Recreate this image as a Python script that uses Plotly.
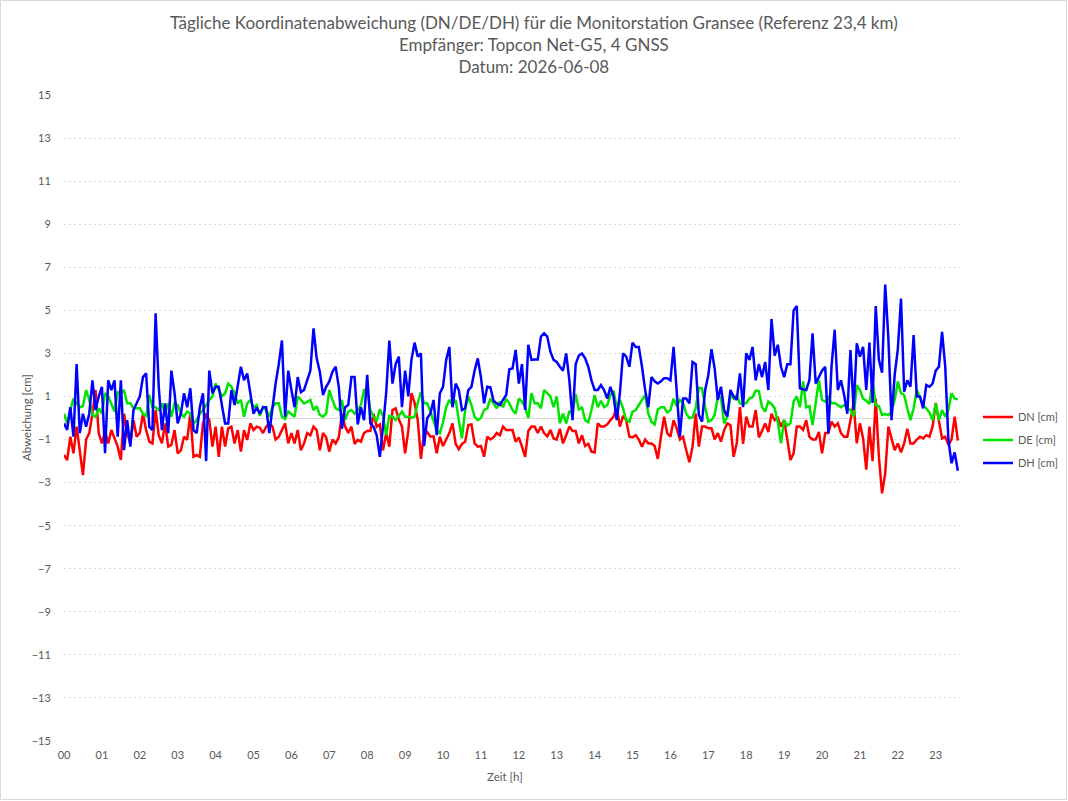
import plotly.graph_objects as go

# time axis: 5-minute samples starting 00:00 (hours)
n_points = 284
hours = [i * 5 / 60 for i in range(n_points)]
tick_vals = list(range(24))
tick_text = [f"{h:02d}" for h in range(24)]
y_ticks = list(range(-15, 16, 2))

dn = [
    -1.72, -1.95, -0.87, -1.64, -0.4, -1.6, -2.65, -1.0, -0.7, 0.2,
    1.3, -0.7, -1.18, -0.63, -1.18, -0.56, -1.0, -1.33, -1.95, 0.2,
    -0.7, -1.18, -0.1, -0.87, -0.7, 0.2, -0.56, -1.1, -1.18, 0.37,
    -0.8, -1.18, -0.25, -1.33, -1.25, -0.56, -1.64, -1.5, -0.87, -1.02,
    0.2, -1.8, -1.72, -1.8, -0.25, 0.2, -0.1, -1.33, -0.4, -1.8,
    -0.4, -1.33, -0.48, -0.4, -1.18, -0.56, -1.56, -0.56, -1.02, -0.25,
    -0.56, -0.4, -0.45, -0.7, -0.4, -0.25, -0.4, -1.0, -0.87, -0.56,
    -0.25, -1.18, -0.7, -1.18, -0.56, -1.5, -1.18, -0.7, -0.8, -0.4,
    -0.56, -1.5, -0.7, -0.9, -1.56, -1.0, -1.18, -0.9, 0.2, -0.4,
    -0.7, -0.4, -1.2, -1.02, -1.1, -0.7, -0.6, -0.6, 0.2, -0.4,
    -0.3, -1.5, -0.7, -1.33, 0.37, 0.45, -0.06, -0.4, -1.64, -0.6,
    1.15, 0.7, -0.1, -1.9, -0.7, -0.65, -0.87, -0.85, -1.64, -0.87,
    -1.3, -1.0, -0.7, -0.25, -1.2, -1.45, -1.2, -1.1, -0.33, -0.3,
    -1.18, -1.33, -1.3, -1.8, -0.87, -1.0, -0.9, -0.7, -0.8, -0.4,
    -0.56, -0.56, -0.56, -1.1, -0.9, -1.33, -1.8, -0.6, -0.4, -0.4,
    -0.7, -0.4, -0.7, -0.85, -0.56, -0.95, -1.0, -0.5, -1.18, -0.8,
    -0.4, -0.6, -0.6, -1.18, -0.8, -1.3, -1.2, -1.56, -1.6, -0.25,
    -0.4, -0.4, -0.3, -0.1, 0.06, 0.5, -0.4, 0.1, -0.1, -0.87,
    -0.9, -0.8, -1.0, -1.33, -1.0, -1.18, -1.18, -1.3, -1.9, -0.87,
    0.06, -0.7, -0.87, -0.1, -0.48, -1.0, -0.87, -1.5, -2.05, -1.33,
    0.2, -1.33, -0.4, -0.4, -0.48, -0.48, -1.0, -0.7, -1.1, -0.56,
    -0.25, -0.33, -1.8, -1.18, 0.5, -1.2, 0.06, -0.4, -0.4, 0.37,
    -0.9, -0.6, -0.25, -0.65, 0.2, -0.1, 0.0, -0.4, -0.1, -1.0,
    -1.95, -1.64, -0.4, -0.4, -0.55, -0.1, -0.87, -1.0, -1.0, -0.65,
    -1.64, -0.7, -0.7, -0.17, -0.4, -0.25, -0.7, -0.87, -0.87, -0.1,
    0.7, -1.18, -0.25, -0.95, -2.4, -0.4, -2.0, 0.9, -1.8, -3.5,
    -2.57, -0.4, -1.0, -1.5, -1.18, -1.6, -1.18, -0.5, -1.18, -1.18,
    -1.0, -0.87, -0.95, -0.8, -0.87, -0.4, 0.7, -0.1, -0.95, -0.87,
    -1.25, -1.0, 0.06, -1.05,
]

de = [
    0.2, -0.25, 0.37, 0.9, 0.68, 0.5, 0.55, 1.3, 0.84, 0.14,
    0.06, 0.45, 0.2, 1.15, 1.0, 0.68, 0.3, 1.2, 1.15, 1.3,
    0.68, 0.68, 0.45, 0.45, 0.45, 0.2, 0.06, 1.07, 0.5, 0.5,
    0.37, 0.68, 0.2, 0.68, 0.06, 0.68, 0.6, 0.2, 0.06, 0.3,
    0.2, -0.25, -0.1, 0.2, 0.37, 0.6, 0.84, 1.0, 1.6, 1.3,
    1.0, 1.15, 1.6, 1.45, 1.15, 0.68, 0.84, 0.06, 0.68, 0.84,
    0.5, 0.6, 0.1, 0.5, 0.37, 0.06, 0.5, 0.68, 0.68, 0.06,
    -0.05, 0.3, 0.2, 0.06, 1.0, 0.84, 0.68, 0.75, 0.84, 0.37,
    0.55, 0.14, 0.06, 0.2, 1.3, 0.84, 0.45, 0.37, 0.84, -0.1,
    0.3, 0.37, 0.2, 0.37, 0.6, 1.3, 1.3, 0.37, 0.06, -0.15,
    0.4, 0.1, -0.8, 0.1, 0.06, -0.1, 0.1, 0.3, 0.06, 0.06,
    0.0, 0.06, 0.7, 1.2, 0.68, 0.68, 0.3, -0.1, -0.56, -0.7,
    -0.2, 0.5, 0.84, 0.6, 0.84, -0.1, -0.95, 0.37, 1.0, 0.6,
    0.06, -0.1, 0.0, 0.37, 0.45, 0.9, 0.68, 0.45, 0.76, 0.5,
    0.88, 0.68, 0.37, 0.2, 0.9, 0.76, 0.5, 0.0, 1.15, 0.68,
    0.68, 0.45, 1.3, 1.15, 1.0, 0.5, 1.0, -0.25, 0.2, -0.25,
    0.3, 0.25, 1.1, 0.4, 0.48, -0.1, -0.2, 0.37, 1.07, 0.5,
    0.8, 0.5, 0.6, 1.07, 1.27, 0.45, 0.84, 0.45, -0.1, -0.17,
    0.3, 0.37, 0.6, 0.8, 1.07, 0.2, -0.17, -0.3, 0.4, 0.5,
    0.5, 0.26, 0.37, 0.9, 0.55, 0.84, 0.7, 0.2, 0.0, 0.03,
    0.45, 1.4, 1.38, 0.5, -0.17, -0.1, 0.14, 1.0, 0.96, -0.25,
    0.06, 1.07, 0.9, 1.07, 0.68, 0.65, 0.7, 0.9, 0.96, 1.27,
    1.25, 0.5, 0.3, 0.76, 0.65, 0.45, -0.2, -1.18, -0.1, -0.35,
    -0.25, 0.76, 1.0, 0.5, 1.7, 0.5, 0.55, -0.33, 0.84, 1.75,
    0.84, 0.76, 0.96, 0.68, 0.7, 0.6, 0.5, 0.6, 0.45, 0.37,
    0.06, 1.53, 1.3, 0.9, 0.8, 0.65, 1.7, 0.6, 0.55, 0.14,
    0.18, 0.14, 0.3, 0.84, 1.7, 1.15, 1.07, 0.45, -0.1, 0.45,
    1.3, 0.96, 0.6, 0.45, 0.25, -0.1, 0.68, -0.1, 0.37, 0.06,
    0.37, 1.15, 0.9, 0.87,
]

dh = [
    -0.25, -0.55, 0.5, -0.87, 2.5, -0.7, 0.2, -0.4, 0.2, 1.75,
    0.37, 1.0, 1.45, -1.64, 1.75, 1.3, 1.75, -0.87, 1.75, -1.49,
    -0.1, -1.33, 0.37, 0.68, 1.0, 1.9, 2.07, -0.4, -0.56, 4.86,
    1.45, -0.56, 0.68, -0.7, 2.2, 1.15, -0.25, 0.2, 1.15, 0.5,
    1.38, -0.56, -0.7, 0.5, 1.15, -2.0, 2.2, 1.15, 1.45, 1.45,
    0.68, -0.25, -0.25, 1.3, 0.6, 1.45, 2.38, 1.75, 2.07, 1.15,
    0.2, 0.5, 0.2, 0.5, 0.5, -0.7, 0.5, 1.6, 2.5, 3.6,
    0.06, 2.2, 1.3, 0.5, 1.9, 1.2, 1.3, 1.75, 2.2, 4.16,
    2.77, 2.15, 1.07, 1.45, 1.7, 2.15, 2.38, 1.45, -0.5, 0.5,
    0.6, 1.9, 1.9, -0.3, 0.5, -0.1, 2.0, -0.25, -0.4, -0.8,
    -1.8, -0.4, 1.15, 3.6, 1.6, 2.5, 2.85, 0.5, 2.2, 1.0,
    2.7, 3.5, 2.85, 3.0, -1.3, 0.0, 0.2, 0.84, -0.8, 1.15,
    1.45, 2.7, 3.3, 0.5, 1.6, 1.3, 0.37, 0.45, 1.3, 1.45,
    2.2, 2.77, 1.9, 0.68, 1.45, 1.42, 0.8, 0.68, 0.6, 0.84,
    1.07, 2.26, 2.3, 3.16, 1.6, 2.5, 0.37, 3.4, 2.7, 2.72,
    2.72, 3.78, 3.93, 3.78, 3.08, 2.7, 2.6, 2.38, 2.2, 3.0,
    1.75, -0.1, 2.5, 2.9, 3.0, 2.77, 2.38, 1.75, 1.3, 1.3,
    1.53, 1.3, 0.9, 1.45, 1.0, -0.1, 1.15, 3.0, 2.85, 2.38,
    3.5, 3.3, 3.3, 2.38, 1.3, 0.5, 1.9, 1.7, 1.6, 1.7,
    1.85, 1.85, 1.75, 3.3, 1.07, -0.87, 0.9, 0.9, 0.68, 2.6,
    2.5, 0.14, -0.17, 1.3, 2.0, 3.2, 2.3, 0.84, 1.45, 0.37,
    0.06, 1.3, 1.0, 0.84, 2.07, 0.5, 3.0, 2.7, 3.3, 1.75,
    2.5, 1.9, 2.6, 1.3, 4.6, 2.9, 3.4, 2.38, 1.9, 2.5,
    2.5, 5.0, 5.2, 1.38, 1.33, 1.3, 1.75, 3.93, 1.6, 1.9,
    2.2, 2.38, -0.7, 2.38, 4.1, 1.3, 1.75, 1.07, 0.2, 3.16,
    0.37, 3.47, 2.85, 3.3, 1.3, 3.5, 0.7, 5.2, 2.7, 2.1,
    6.2, 3.7, -0.1, 2.0, 3.2, 5.55, 1.22, 1.75, 1.45, 3.85,
    1.0, 1.0, 0.45, 1.53, 1.45, 1.6, 2.2, 2.38, 4.0, 2.4,
    -1.0, -2.1, -1.6, -2.45,
]

series_names = ["DN [cm]", "DE [cm]", "DH [cm]"]
series_colors = ["#FF0000", "#00E400", "#0000FF"]

title_lines = [
    "Tägliche Koordinatenabweichung (DN/DE/DH) für die Monitorstation Gransee (Referenz 23,4 km)",
    "Empfänger: Topcon Net-G5, 4 GNSS",
    "Datum: 2026-06-08",
]

FONT = "Lato, 'Open Sans', sans-serif"
GRAY = "#595959"
GRID = "#D9D9D9"

fig = go.Figure()
for name, vals, col in zip(series_names, [dn, de, dh], series_colors):
    fig.add_trace(go.Scatter(
        x=hours, y=vals, mode="lines", name=name, legendgroup=name,
        line=dict(color=col, width=2.5),
    ))

W, H = 1068, 801
L, R, T, B = 64, 108, 95, 60
pw, ph = W - L - R, H - T - B


def px_x(x):
    return (x - L) / pw


def px_y(y):
    return (H - B - y) / ph


fig.update_layout(
    width=W, height=H,
    margin=dict(l=L, r=R, t=T, b=B, autoexpand=False),
    paper_bgcolor="white", plot_bgcolor="white",
    font=dict(family=FONT, color=GRAY, size=11),
    xaxis=dict(
        range=[0, 23.64], tickmode="array", tickvals=tick_vals, ticktext=tick_text,
        showgrid=False, zeroline=False, showline=False,
        ticks="outside", ticklen=4, tickcolor="rgba(0,0,0,0)",
        tickfont=dict(size=11, color=GRAY),
    ),
    yaxis=dict(
        range=[-15, 15], tickmode="array", tickvals=y_ticks,
        showgrid=True, gridcolor=GRID, griddash="2px,3px", gridwidth=1,
        zeroline=True, zerolinecolor=GRID, zerolinewidth=1.3,
        showline=False,
        ticks="outside", ticklen=10, tickcolor="rgba(0,0,0,0)",
        tickfont=dict(size=11, color=GRAY),
    ),
    legend=dict(
        x=px_x(978), xanchor="left", y=px_y(440), yanchor="middle",
        font=dict(size=11, color=GRAY), tracegroupgap=4,
        bgcolor="rgba(0,0,0,0)",
    ),
    showlegend=True,
)

annotations = [
    dict(text="<br>".join(title_lines), xref="paper", yref="paper",
         x=px_x(534), y=px_y(10), xanchor="center", yanchor="top",
         showarrow=False, align="center",
         font=dict(family=FONT, size=17, color=GRAY)),
    dict(text="Zeit [h]", xref="paper", yref="paper",
         x=px_x(505), y=px_y(776), xanchor="center", yanchor="middle",
         showarrow=False, font=dict(size=11.5, color=GRAY)),
    dict(text="Abweichung [cm]", xref="paper", yref="paper",
         x=px_x(26), y=px_y(418), xanchor="center", yanchor="middle",
         textangle=-90, showarrow=False, font=dict(size=11.5, color=GRAY)),
]
fig.update_layout(annotations=annotations)

# thin frame around the whole chart
fig.add_shape(
    type="rect", xref="paper", yref="paper",
    x0=px_x(0.5), x1=px_x(W - 1.5),
    y0=px_y(H - 1.5), y1=px_y(0.5),
    line=dict(color=GRID, width=1), fillcolor="rgba(0,0,0,0)", layer="below",
)

fig.write_html("out.html")
